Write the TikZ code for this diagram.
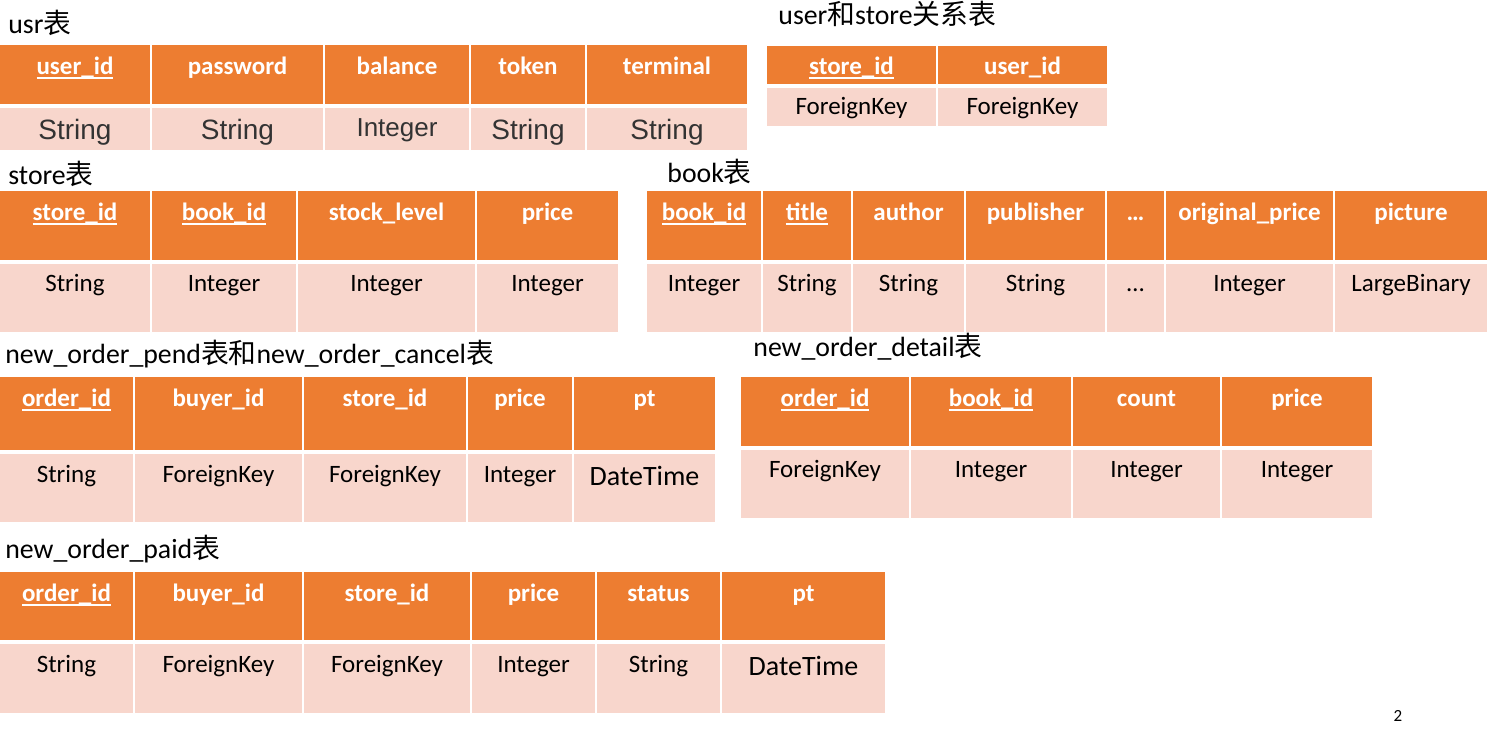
\documentclass[tikz,border=0pt]{standalone}
\usepackage{fontspec}
\setmainfont{Carlito}
\newfontfamily\cjk{Noto Sans CJK SC}
\newfontfamily\arialfont{Liberation Sans}
\definecolor{hdrorange}{HTML}{ED7D31}
\definecolor{bdypink}{HTML}{F8D6CC}
\newcommand{\pk}[1]{\setbox0\hbox{#1}\rlap{\rule[-2.6pt]{\wd0}{0.9pt}}\box0}
\newcommand{\dt}{\fontsize{14}{17}\selectfont\raisebox{-1.5pt}}
\newcommand{\smint}{\fontsize{13}{16}\selectfont\raisebox{1.5pt}{Integer}}
\tikzset{
	hdr/.style={fill=hdrorange},
	bdy/.style={fill=bdypink},
	htxt/.style={anchor=base, inner sep=0, text=white, font=\bfseries\fontsize{12.5}{15}\selectfont},
	btxt/.style={anchor=base, inner sep=0, font=\fontsize{12.5}{15}\selectfont},
	utxt/.style={anchor=base, inner sep=0, text=black!80, font=\arialfont\fontsize{14}{17}\selectfont},
	ttl/.style={anchor=base west, inner sep=0, font=\fontsize{13.9}{16}\selectfont}
}

\begin{document}
\begin{tikzpicture}[x=0.5pt, y=-0.5pt]
	\useasboundingbox (0,0) rectangle (1493,739);
	
	% Draw table titles
	\node[ttl] (usrttl) at (8,33) {usr{\cjk 表}};
	\node[ttl] (usttl) at (778,25) {user{\cjk 和}store{\cjk 关系表}};
	\node[ttl] (storettl) at (8,184) {store{\cjk 表}};
	\node[ttl] (bookttl) at (667,182) {book{\cjk 表}};
	\node[ttl] (pendttl) at (5,363) {new\_order\_pend{\cjk 表和}new\_order\_cancel{\cjk 表}};
	\node[ttl] (detailttl) at (753,356) {new\_order\_detail{\cjk 表}};
	\node[ttl] (paidttl) at (5,558) {new\_order\_paid{\cjk 表}};
	
	% usr
	\foreach \xa/\xb/\hd/\bd [count=\i] in {0/150/\pk{user\_id}/String, 152/323/password/String,
		325/469/balance/\smint, 471/585/token/String, 587/747/terminal/String} {
		\fill[hdr] (\xa,45) rectangle (\xb,104);
		\fill[bdy] (\xa,108) rectangle (\xb,150);
		\node[htxt] (usr-h\i) at ({(\xa+\xb)/2},74) {\hd};
		\node[utxt] (usr-b\i) at ({(\xa+\xb)/2},139) {\bd};
	}
	
	% user and store
	\foreach \xa/\xb/\hd/\bd [count=\i] in {767/936/\pk{store\_id}/ForeignKey, 938/1107/user\_id/ForeignKey} {
		\fill[hdr] (\xa,46) rectangle (\xb,84);
		\fill[bdy] (\xa,88) rectangle (\xb,126);
		\node[htxt] (us-h\i) at ({(\xa+\xb)/2},74) {\hd};
		\node[btxt] (us-b\i) at ({(\xa+\xb)/2},114) {\bd};
	}
	
	% store
	\foreach \xa/\xb/\hd/\bd [count=\i] in {0/150/\pk{store\_id}/String, 152/296/\pk{book\_id}/Integer,
		298/475/stock\_level/Integer, 477/618/price/Integer} {
		\fill[hdr] (\xa,191) rectangle (\xb,260);
		\fill[bdy] (\xa,264) rectangle (\xb,332);
		\node[htxt] (store-h\i) at ({(\xa+\xb)/2},220) {\hd};
		\node[btxt] (store-b\i) at ({(\xa+\xb)/2},291) {\bd};
	}
	
	% book
	\foreach \xa/\xb/\hd/\bd [count=\i] in {647/761/\pk{book\_id}/Integer, 763/851/\pk{title}/String,
		853/964/author/String, 966/1105/publisher/String, 1107/1164/{\ldots}/{\ldots}, 1166/1333/original\_price/Integer,
		1335/1487/picture/LargeBinary} {
		\fill[hdr] (\xa,191) rectangle (\xb,260);
		\fill[bdy] (\xa,264) rectangle (\xb,332);
		\node[htxt] (book-h\i) at ({(\xa+\xb)/2},220) {\hd};
		\node[btxt] (book-b\i) at ({(\xa+\xb)/2},291) {\bd};
	}
	
	% new_order_pend / new_order_cancel
	\foreach \xa/\xb/\hd/\bd [count=\i] in {0/133/\pk{order\_id}/String, 135/302/buyer\_id/ForeignKey,
		304/466/store\_id/ForeignKey, 468/572/price/Integer, 574/715/pt/{\dt{DateTime}}} {
		\fill[hdr] (\xa,377) rectangle (\xb,450);
		\fill[bdy] (\xa,454) rectangle (\xb,522);
		\node[htxt] (pend-h\i) at ({(\xa+\xb)/2},406) {\hd};
		\node[btxt] (pend-b\i) at ({(\xa+\xb)/2},482) {\bd};
	}
	
	% new_order_detail
	\foreach \xa/\xb/\hd/\bd [count=\i] in {741/909/\pk{order\_id}/ForeignKey, 911/1071/\pk{book\_id}/Integer,
		1073/1220/count/Integer, 1222/1372/price/Integer} {
		\fill[hdr] (\xa,377) rectangle (\xb,446);
		\fill[bdy] (\xa,450) rectangle (\xb,518);
		\node[htxt] (detail-h\i) at ({(\xa+\xb)/2},406) {\hd};
		\node[btxt] (detail-b\i) at ({(\xa+\xb)/2},477) {\bd};
	}
	
	% new_order_paid
	\foreach \xa/\xb/\hd/\bd [count=\i] in {0/133/\pk{order\_id}/String, 135/302/buyer\_id/ForeignKey,
		304/470/store\_id/ForeignKey, 472/595/price/Integer, 597/720/status/String, 722/885/pt/{\dt{DateTime}}} {
		\fill[hdr] (\xa,572) rectangle (\xb,640);
		\fill[bdy] (\xa,644) rectangle (\xb,713);
		\node[htxt] (paid-h\i) at ({(\xa+\xb)/2},601) {\hd};
		\node[btxt] (paid-b\i) at ({(\xa+\xb)/2},672) {\bd};
	}
	
	% page number
	\node[inner sep=0, font=\fontsize{8.5}{10}\selectfont] (pageno) at (1398,716) {2};
\end{tikzpicture}
\end{document}
